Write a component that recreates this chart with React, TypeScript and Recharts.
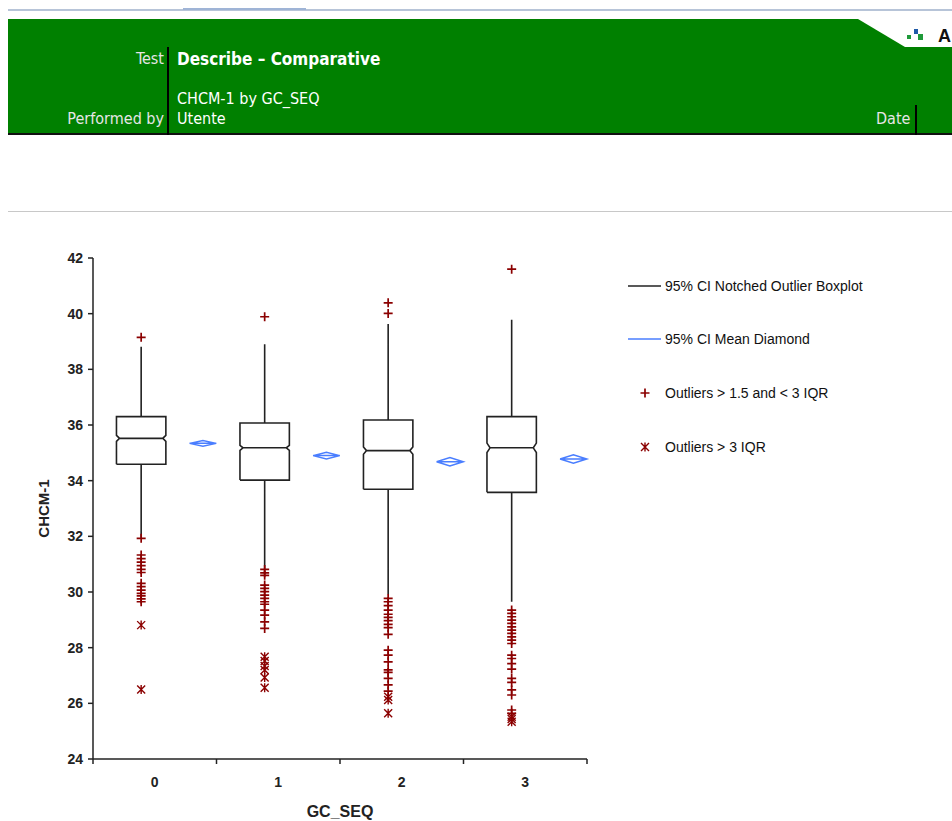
import { ComposedChart, Line, Scatter, XAxis, YAxis } from 'recharts'

const categories = ['0', '1', '2', '3']
const q1 = [34.59, 34.02, 33.69, 33.58]
const median = [35.52, 35.18, 35.08, 35.18]
const q3 = [36.3, 36.07, 36.18, 36.3]
const whiskerLow = [31.95, 30.85, 29.92, 29.65]
const whiskerHigh = [38.81, 38.9, 39.63, 39.78]
const notchHalf = [0.11, 0.09, 0.13, 0.17]
const means = [35.34, 34.9, 34.68, 34.78]
const meanCI = [0.1, 0.12, 0.15, 0.15]

const mildOutliers0 = [39.15, 31.93, 31.33, 31.2, 31.07, 30.95, 30.81, 30.7, 30.31, 30.19, 30.07, 29.95, 29.86, 29.75, 29.65]
const mildOutliers1 = [39.89, 30.81, 30.69, 30.6, 30.25, 30.13, 30.01, 29.89, 29.77, 29.65, 29.56, 29.35, 29.17, 28.93, 28.69]
const mildOutliers2 = [40.39, 40.01, 29.77, 29.65, 29.51, 29.35, 29.2, 29.09, 28.97, 28.84, 28.72, 28.48, 27.91, 27.73, 27.49, 27.2, 27.11, 26.9, 26.66, 26.44]
const mildOutliers3 = [41.6, 29.35, 29.23, 29.11, 28.99, 28.87, 28.75, 28.63, 28.51, 28.39, 28.27, 28.15, 27.73, 27.61, 27.43, 27.23, 26.9, 26.75, 26.48, 26.3, 25.76, 25.64]
const extremeOutliers0 = [28.81, 26.5]
const extremeOutliers1 = [27.67, 27.52, 27.34, 27.2, 26.93, 26.56]
const extremeOutliers2 = [26.24, 26.12, 25.64]
const extremeOutliers3 = [25.52, 25.44, 25.34]

const yTicks = [24, 26, 28, 30, 32, 34, 36, 38, 40, 42]
const xTicks = [-0.5, 0, 0.5, 1, 1.5, 2, 2.5, 3, 3.5]

const BOX_SHIFT = -0.11
const BOX_HALF = 0.2
const NOTCH_DEPTH = 0.025
const DIAMOND_SHIFT = 0.39
const DIAMOND_HALF = 0.108

const RED = '#8b0000'
const BLUE = '#4a7eff'
const INK = '#222'

type Pt = { x: number; y: number | null }

// box outline with notch, median, and both whiskers; null breaks the line
const boxLines: Pt[] = categories.flatMap((_, i) => {
  const c = i + BOX_SHIFT
  const l = c - BOX_HALF
  const r = c + BOX_HALF
  const m = median[i]
  const n = notchHalf[i]
  return [
    { x: l, y: q1[i] }, { x: l, y: m - n }, { x: l + NOTCH_DEPTH, y: m }, { x: l, y: m + n },
    { x: l, y: q3[i] }, { x: r, y: q3[i] }, { x: r, y: m + n }, { x: r - NOTCH_DEPTH, y: m },
    { x: r, y: m - n }, { x: r, y: q1[i] }, { x: l, y: q1[i] }, { x: c, y: null },
    { x: l + NOTCH_DEPTH, y: m }, { x: r - NOTCH_DEPTH, y: m }, { x: c, y: null },
    { x: c, y: q3[i] }, { x: c, y: whiskerHigh[i] }, { x: c, y: null },
    { x: c, y: q1[i] }, { x: c, y: whiskerLow[i] }, { x: c, y: null },
  ]
})

const diamondLines: Pt[] = categories.flatMap((_, i) => {
  const c = i + DIAMOND_SHIFT
  const m = means[i]
  return [
    { x: c - DIAMOND_HALF, y: m }, { x: c, y: m + meanCI[i] }, { x: c + DIAMOND_HALF, y: m },
    { x: c, y: m - meanCI[i] }, { x: c - DIAMOND_HALF, y: m }, { x: c + DIAMOND_HALF, y: m },
    { x: c, y: null },
  ]
})

const toPoints = (groups: number[][]) =>
  groups.flatMap((vals, i) => vals.map((v) => ({ x: i + BOX_SHIFT, y: v })))

const mildData = toPoints([mildOutliers0, mildOutliers1, mildOutliers2, mildOutliers3])
const extremeData = toPoints([extremeOutliers0, extremeOutliers1, extremeOutliers2, extremeOutliers3])

const PlusMark = ({ cx, cy }: any) => (
  <path d={`M${cx - 4.5},${cy}H${cx + 4.5}M${cx},${cy - 4.5}V${cy + 4.5}`} stroke={RED} strokeWidth={1.7} fill="none" />
)

const StarMark = ({ cx, cy }: any) => (
  <path
    d={`M${cx - 4},${cy - 4}L${cx + 4},${cy + 4}M${cx + 4},${cy - 4}L${cx - 4},${cy + 4}M${cx},${cy - 4.5}V${cy + 4.5}`}
    stroke={RED}
    strokeWidth={1.4}
    fill="none"
  />
)

const XTick = ({ x, y, payload }: any) => {
  const v = payload.value
  if (Number.isInteger(v)) {
    return (
      <text x={x} y={y + 28} textAnchor="middle" fontSize={14} fontWeight="bold" fill={INK}>
        {categories[v]}
      </text>
    )
  }
  return <line x1={x} x2={x} y1={y} y2={y + 5} stroke={INK} strokeWidth={1.5} />
}

const header = 'DejaVu Sans, sans-serif'

function Header() {
  const txt = {
    position: 'absolute' as const,
    color: '#fff',
    fontFamily: header,
    fontStretch: 'condensed',
    fontSize: 16,
    lineHeight: '18px',
    whiteSpace: 'nowrap' as const,
  }
  return (
    <>
      <div style={{ position: 'absolute', left: 8, top: 9, width: 944, height: 2, background: '#b7c4d8' }} />
      <div style={{ position: 'absolute', left: 183, top: 8, width: 123, height: 2, background: '#9fb4d6' }} />
      <div style={{ position: 'absolute', left: 8, top: 19, width: 944, height: 114, background: '#008000' }} />
      <div style={{ position: 'absolute', left: 8, top: 133, width: 944, height: 2, background: '#111' }} />
      <div style={{ position: 'absolute', left: 167, top: 47, width: 2, height: 88, background: '#000' }} />
      <div style={{ position: 'absolute', left: 915, top: 105, width: 2, height: 30, background: '#000' }} />
      <svg style={{ position: 'absolute', left: 850, top: 19 }} width={102} height={30}>
        <polygon points="8,0 102,0 102,28 55,28" fill="#fff" />
        <rect x={57} y={16} width={4} height={4} fill="#1f9a3a" />
        <rect x={64} y={10} width={4} height={5} fill="#1f5aa8" />
        <rect x={68} y={15} width={5} height={6} fill="#1f9a3a" />
        <text x={88} y={23} fontSize={18} fontWeight="bold" fontFamily="Liberation Sans, Arial, sans-serif" fill="#111">A</text>
      </svg>
      <div style={{ ...txt, right: 952 - 164, top: 50, color: '#e6e6e6' }}>Test</div>
      <div style={{ ...txt, left: 177, top: 50, fontWeight: 'bold', fontSize: 17 }}>Describe – Comparative</div>
      <div style={{ ...txt, left: 177, top: 90 }}>CHCM-1 by GC_SEQ</div>
      <div style={{ ...txt, right: 952 - 164, top: 110, color: '#e6e6e6' }}>Performed by</div>
      <div style={{ ...txt, left: 177, top: 110 }}>Utente</div>
      <div style={{ ...txt, left: 876, top: 110, color: '#e6e6e6' }}>Date</div>
      <div style={{ position: 'absolute', left: 8, top: 211, width: 944, height: 1, background: '#c8c8c8' }} />
    </>
  )
}

function LegendBox() {
  const row = (top: number, mark: any, label: string) => (
    <div style={{ position: 'absolute', left: 626, top: top - 9, height: 18, display: 'flex', alignItems: 'center', whiteSpace: 'nowrap' }}>
      <svg width={39} height={18}>{mark}</svg>
      <span style={{ fontSize: 14, color: '#111' }}>{label}</span>
    </div>
  )
  return (
    <>
      {row(286, <line x1={2} x2={35} y1={9} y2={9} stroke={INK} strokeWidth={1.3} />, '95% CI Notched Outlier Boxplot')}
      {row(339, <line x1={2} x2={35} y1={9} y2={9} stroke={BLUE} strokeWidth={1.3} />, '95% CI Mean Diamond')}
      {row(393, <PlusMark cx={19} cy={9} />, 'Outliers > 1.5 and < 3 IQR')}
      {row(447, <StarMark cx={19} cy={9} />, 'Outliers > 3 IQR')}
    </>
  )
}

export default function App() {
  return (
    <div style={{ position: 'absolute', left: 0, top: 0, width: 952, height: 821, background: '#fff', overflow: 'hidden', fontFamily: 'Liberation Sans, Arial, sans-serif' }}>
      <Header />
      <div style={{ position: 'absolute', left: 0, top: 220 }}>
        <ComposedChart width={952} height={600} margin={{ top: 38, right: 365, bottom: 21, left: 33 }}>
          <XAxis
            type="number"
            dataKey="x"
            domain={[-0.5, 3.5]}
            ticks={xTicks}
            interval={0}
            tickSize={0}
            tickMargin={0}
            tickLine={false}
            tick={<XTick />}
            height={40}
            axisLine={{ stroke: INK, strokeWidth: 1.5 }}
            label={({ viewBox }: any) => (
              <text x={viewBox.x + viewBox.width / 2} y={viewBox.y + 58} textAnchor="middle" fontSize={16} fontWeight="bold" fill={INK}>
                GC_SEQ
              </text>
            )}
          />
          <YAxis
            type="number"
            dataKey="y"
            domain={[24, 42]}
            ticks={yTicks}
            interval={0}
            width={60}
            tickSize={5}
            tickMargin={5}
            tick={{ fontSize: 14, fontWeight: 'bold', fill: INK }}
            tickLine={{ stroke: INK, strokeWidth: 1.5 }}
            axisLine={{ stroke: INK, strokeWidth: 1.5 }}
            label={({ viewBox }: any) => {
              const cx = viewBox.x + 10
              const cy = viewBox.y + viewBox.height / 2
              return (
                <text x={cx} y={cy} transform={`rotate(-90, ${cx}, ${cy})`} textAnchor="middle" dominantBaseline="central" fontSize={15} fontWeight="bold" fill={INK}>
                  CHCM-1
                </text>
              )
            }}
          />
          <Line data={boxLines} dataKey="y" stroke={INK} strokeWidth={1.6} dot={false} activeDot={false} connectNulls={false} isAnimationActive={false} type="linear" />
          <Line data={diamondLines} dataKey="y" stroke={BLUE} strokeWidth={1.5} dot={false} activeDot={false} connectNulls={false} isAnimationActive={false} type="linear" />
          <Scatter data={mildData} dataKey="y" shape={<PlusMark />} isAnimationActive={false} />
          <Scatter data={extremeData} dataKey="y" shape={<StarMark />} isAnimationActive={false} />
        </ComposedChart>
      </div>
      <LegendBox />
    </div>
  )
}
